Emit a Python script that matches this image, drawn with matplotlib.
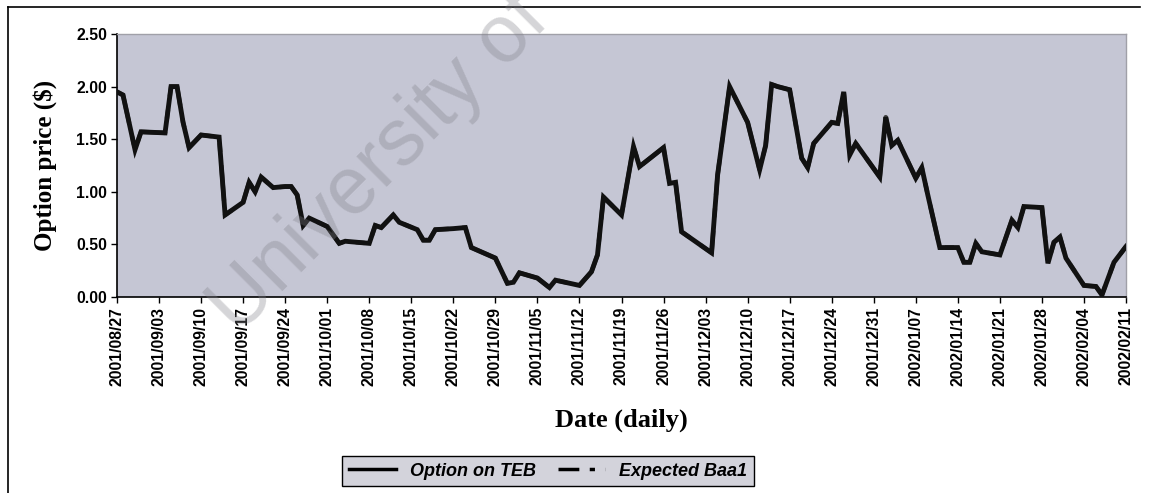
import matplotlib
matplotlib.use("Agg")
import matplotlib.pyplot as plt
from matplotlib.lines import Line2D
import pandas as pd

# ---- data ----
dates = [
    "2001-08-27", "2001-08-28", "2001-08-30", "2001-08-31", "2001-09-04", "2001-09-05",
    "2001-09-06", "2001-09-07", "2001-09-08", "2001-09-10", "2001-09-13", "2001-09-14",
    "2001-09-17", "2001-09-18", "2001-09-19", "2001-09-20", "2001-09-22", "2001-09-24",
    "2001-09-25", "2001-09-26", "2001-09-27", "2001-09-28", "2001-10-01", "2001-10-03",
    "2001-10-04", "2001-10-08", "2001-10-09", "2001-10-10", "2001-10-12", "2001-10-13",
    "2001-10-16", "2001-10-17", "2001-10-18", "2001-10-19", "2001-10-22", "2001-10-24",
    "2001-10-25", "2001-10-27", "2001-10-29", "2001-10-31", "2001-11-01", "2001-11-02",
    "2001-11-05", "2001-11-07", "2001-11-08", "2001-11-12", "2001-11-14", "2001-11-15",
    "2001-11-16", "2001-11-19", "2001-11-21", "2001-11-22", "2001-11-26", "2001-11-27",
    "2001-11-28", "2001-11-29", "2001-12-04", "2001-12-05", "2001-12-07", "2001-12-10",
    "2001-12-12", "2001-12-13", "2001-12-14", "2001-12-15", "2001-12-17", "2001-12-19",
    "2001-12-20", "2001-12-21", "2001-12-24", "2001-12-25", "2001-12-26", "2001-12-27",
    "2001-12-28", "2002-01-01", "2002-01-02", "2002-01-03", "2002-01-04", "2002-01-07",
    "2002-01-08", "2002-01-09", "2002-01-11", "2002-01-14", "2002-01-15", "2002-01-16",
    "2002-01-17", "2002-01-18", "2002-01-21", "2002-01-23", "2002-01-24", "2002-01-25",
    "2002-01-28", "2002-01-29", "2002-01-30", "2002-01-31", "2002-02-01", "2002-02-04",
    "2002-02-06", "2002-02-07", "2002-02-09", "2002-02-11",
]
option_teb = [
    1.95, 1.92, 1.40, 1.57, 1.56, 2.00,
    2.00, 1.66, 1.42, 1.54, 1.52, 0.78,
    0.90, 1.09, 1.00, 1.14, 1.04, 1.05,
    1.05, 0.97, 0.68, 0.75, 0.67, 0.51,
    0.53, 0.51, 0.68, 0.66, 0.78, 0.71,
    0.64, 0.54, 0.54, 0.64, 0.65, 0.66,
    0.47, 0.42, 0.37, 0.13, 0.14, 0.23,
    0.18, 0.09, 0.16, 0.11, 0.24, 0.40,
    0.95, 0.78, 1.43, 1.24, 1.42, 1.08,
    1.09, 0.62, 0.42, 1.16, 2.00, 1.66,
    1.21, 1.44, 2.02, 2.00, 1.97, 1.32,
    1.23, 1.46, 1.66, 1.65, 1.95, 1.35,
    1.46, 1.14, 1.71, 1.44, 1.49, 1.13,
    1.23, 0.97, 0.47, 0.47, 0.33, 0.33,
    0.51, 0.43, 0.40, 0.73, 0.66, 0.86,
    0.85, 0.32, 0.52, 0.57, 0.37, 0.11,
    0.10, 0.02, 0.33, 0.48,
]
expected_baa1 = list(option_teb)  # the two series overlap in the picture

tick_dates = pd.date_range("2001-08-27", "2002-02-11", freq="7D")
y_ticks = [0.0, 0.5, 1.0, 1.5, 2.0, 2.5]

# ---- figure ----
W, H = 1151, 493
fig = plt.figure(figsize=(W / 100, H / 100), dpi=100)
ax = fig.add_axes([117 / W, 1 - 297 / H, (1126 - 117) / W, (297 - 34) / H])
ax.set_facecolor("#c5c6d4")

x = pd.to_datetime(dates)
ax.plot(x, expected_baa1, color="#444444", lw=3.2, ls=(0, (8, 3, 2, 3)), zorder=2,
        label="Expected Baa1")
ax.plot(x, option_teb, color="#111111", lw=3.5, zorder=3, label="Option on TEB",
        solid_joinstyle="miter")

ax.set_xlim(tick_dates[0], tick_dates[-1])
ax.set_ylim(0, 2.5)
ax.set_xticks(tick_dates)
ax.set_xticklabels([d.strftime("%Y/%m/%d") for d in tick_dates], rotation=90,
                   fontsize=11.3, fontweight="bold", family="Liberation Sans")
ax.set_yticks(y_ticks)
ax.set_yticklabels([f"{v:.2f}" for v in y_ticks], fontsize=11.3, fontweight="bold",
                   family="Liberation Sans")
ax.tick_params(axis="both", direction="out", length=4, width=1, color="black", pad=3)
for s in ["top", "right"]:
    ax.spines[s].set_color("#a0a0a8")
    ax.spines[s].set_linewidth(1)
for s in ["left", "bottom"]:
    ax.spines[s].set_color("black")
    ax.spines[s].set_linewidth(1.2)

ax.set_ylabel("Option price ($)", fontsize=18, fontweight="bold", family="Liberation Serif",
              labelpad=14)
ax.set_xlabel("Date (daily)", fontsize=19, fontweight="bold", family="Liberation Serif",
              labelpad=16)

# legend
handles = [Line2D([0], [0], color="black", lw=2.5),
           Line2D([0], [0], color="black", lw=2.5, ls=(0, (6, 3, 1.5, 3)))]
leg = fig.legend(handles, ["Option on TEB", "Expected Baa1"], loc="center",
                 bbox_to_anchor=(548 / W, 1 - 471 / H), ncol=2, frameon=True,
                 fancybox=False, edgecolor="black", facecolor="#d3d3db", framealpha=1,
                 handlelength=2.6, columnspacing=1.2, borderpad=0.35,
                 prop={"family": "Liberation Sans", "weight": "bold", "style": "italic",
                       "size": 13})
leg.get_frame().set_linewidth(1.0)

# outer chart-area border (top and left edges visible)
fig.add_artist(Line2D([8 / W, 1140 / W], [1 - 7 / H, 1 - 7 / H], color="black", lw=1.2,
                      transform=fig.transFigure))
fig.add_artist(Line2D([8 / W, 8 / W], [1 - 7 / H, 0], color="black", lw=1.2,
                      transform=fig.transFigure))

# watermark
fig.text(238 / W, 1 - 336 / H, "University of Cape Town", rotation=45,
         rotation_mode="anchor", ha="left", va="baseline", fontsize=58,
         family="Liberation Sans", color="#808088", alpha=0.33, zorder=10)

fig.savefig("out.png", dpi=100)
